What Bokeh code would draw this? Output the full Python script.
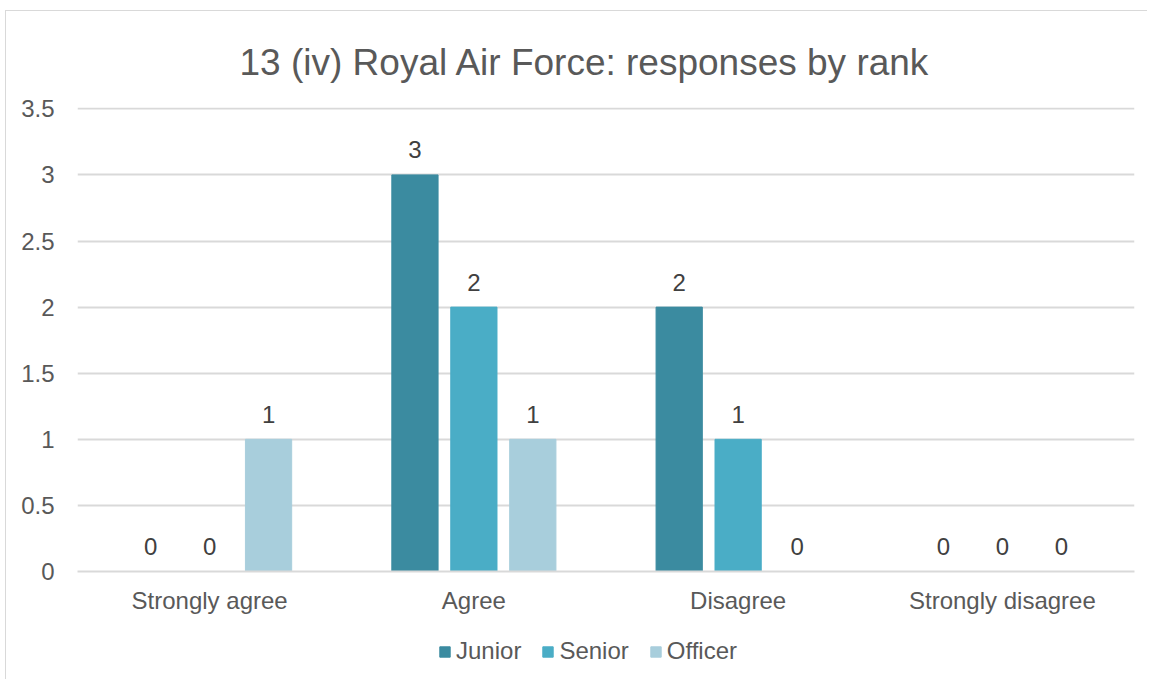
from bokeh.plotting import figure
from bokeh.layouts import column
from bokeh.models import ColumnDataSource, FactorRange, Range1d, Legend, LegendItem, Title, SingleIntervalTicker
from bokeh.transform import dodge
from bokeh.core.properties import value
from bokeh.embed import file_html
from bokeh.resources import INLINE

categories = ["Strongly agree", "Agree", "Disagree", "Strongly disagree"]
series_names = ["Junior", "Senior", "Officer"]
junior = [0, 3, 2, 0]
senior = [0, 2, 1, 0]
officer = [1, 1, 0, 0]
colors = ["#3B8BA0", "#4AADC6", "#A8CEDC"]
title_text = "13 (iv) Royal Air Force: responses by rank"

src = ColumnDataSource(dict(
    cat=categories, Junior=junior, Senior=senior, Officer=officer,
    Junior_t=[str(v) for v in junior], Senior_t=[str(v) for v in senior],
    Officer_t=[str(v) for v in officer],
))

FONT = "Liberation Sans"
TXT = "#595959"

p = figure(x_range=FactorRange(factors=categories, range_padding=0), y_range=Range1d(0, 3.51),
           width=1141, height=609, output_backend="svg", toolbar_location=None,
           min_border_left=71, min_border_right=13, min_border_top=96, min_border_bottom=49)
p.outline_line_color = None
p.background_fill_color = "white"
p.border_fill_color = "white"

p.title = Title(text=title_text, align="left", offset=162, text_font_size="37px", text_font=FONT,
                text_color=TXT, text_font_style="normal", standoff=50)

offsets = [-0.223, 0.0, 0.223]
for name, off, col in zip(series_names, offsets, colors):
    p.vbar(x=dodge("cat", off, range=p.x_range), top=name, width=0.175, source=src,
           fill_color=col, line_color=col)
    p.text(x=dodge("cat", off, range=p.x_range), y=name, text=name + "_t", source=src,
           text_align="center", text_baseline="alphabetic", y_offset=-25,
           text_font=value(FONT), text_font_size="24px", text_color="#404040")

p.yaxis.ticker = SingleIntervalTicker(interval=0.5)
p.yaxis.axis_line_color = None
p.yaxis.major_tick_line_color = None
p.yaxis.minor_tick_line_color = None
p.yaxis.major_label_text_font = FONT
p.yaxis.major_label_text_font_size = "24px"
p.yaxis.major_label_text_color = TXT
p.yaxis.major_label_standoff = 17

p.xaxis.axis_line_color = "#d9d9d9"
p.xaxis.axis_line_width = 2
p.xaxis.major_tick_line_color = None
p.xaxis.minor_tick_line_color = None
p.xaxis.major_label_text_font = FONT
p.xaxis.major_label_text_font_size = "24px"
p.xaxis.major_label_text_color = TXT
p.xaxis.major_label_standoff = 9

p.xgrid.grid_line_color = None
p.ygrid.grid_line_color = "#d9d9d9"
p.ygrid.grid_line_width = 2

# legend in its own strip below the chart (swatch renderers hold no visible data)
lg = figure(width=1141, height=59, output_backend="svg", toolbar_location=None,
            x_range=Range1d(0, 1), y_range=Range1d(0, 1),
            x_axis_location=None, y_axis_location=None,
            min_border_left=0, min_border_right=0, min_border_top=0, min_border_bottom=0)
lg.grid.visible = False
lg.outline_line_color = None
lg.border_fill_color = "white"
nan = float("nan")
swatches = [lg.vbar(x=[nan], top=[nan], width=0.1, fill_color=c, line_color=c) for c in colors]
legend = Legend(items=[LegendItem(label=n, renderers=[r]) for n, r in zip(series_names, swatches)],
                orientation="horizontal", location=(361, 14), label_text_font=FONT,
                label_text_font_size="24px", label_text_color=TXT, glyph_width=13,
                glyph_height=13, spacing=20, label_standoff=5, border_line_color=None,
                background_fill_alpha=0, padding=0, margin=0)
lg.add_layout(legend, "center")

layout = column(p, lg, spacing=0)
layout.styles = {"border-left": "1px solid #d9d9d9", "border-top": "1px solid #d9d9d9",
                 "margin-left": "5px", "margin-top": "10px"}

open("out.html", "w").write(file_html(layout, INLINE))
